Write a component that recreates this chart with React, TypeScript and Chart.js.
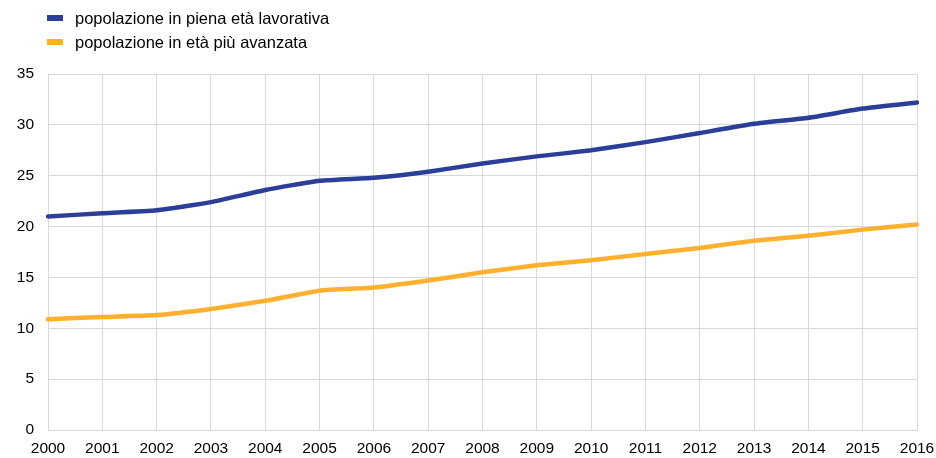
import React, { useEffect, useRef } from "react";
import { Chart, registerables } from "chart.js";

Chart.register(...registerables);

const years = ["2000","2001","2002","2003","2004","2005","2006","2007","2008","2009","2010","2011","2012","2013","2014","2015","2016"];
const workingAge = [21.0, 21.3, 21.6, 22.4, 23.6, 24.5, 24.8, 25.4, 26.2, 26.9, 27.5, 28.3, 29.2, 30.1, 30.7, 31.6, 32.2];
const older = [10.9, 11.1, 11.3, 11.9, 12.7, 13.7, 14.0, 14.7, 15.5, 16.2, 16.7, 17.3, 17.9, 18.6, 19.1, 19.7, 20.2];
const seriesNames = ["popolazione in piena età lavorativa", "popolazione in età più avanzata"];
const seriesColors = ["#2b3f98", "#ffb02e"];

const FONT = "Arial, 'Liberation Sans', sans-serif";

export default function App() {
  const ref = useRef<HTMLCanvasElement | null>(null);
  useEffect(() => {
    if (!ref.current) return;
    const chart = new Chart(ref.current, {
      type: "line",
      data: {
        labels: years,
        datasets: [
          { label: seriesNames[0], data: workingAge, borderColor: seriesColors[0], backgroundColor: seriesColors[0], borderWidth: 4.5, pointRadius: 0, tension: 0.15, borderCapStyle: "round" },
          { label: seriesNames[1], data: older, borderColor: seriesColors[1], backgroundColor: seriesColors[1], borderWidth: 4.5, pointRadius: 0, tension: 0.15, borderCapStyle: "round" },
        ],
      },
      options: {
        animation: false,
        responsive: false,
        maintainAspectRatio: false,
        layout: { padding: { top: 74, right: 19, left: 0, bottom: 0 } },
        plugins: { legend: { display: false }, tooltip: { enabled: false } },
        scales: {
          x: {
            offset: false,
            grid: { color: "#d9d9d9", lineWidth: 1, drawTicks: false },
            border: { color: "#d9d9d9" },
            ticks: { color: "#000", font: { family: FONT, size: 15.5 }, padding: 9, maxRotation: 0, autoSkip: false },
            afterFit: (s: any) => { s.height = 28; s.paddingRight = 0; s.paddingLeft = 0; },
          },
          y: {
            min: 0,
            max: 35,
            grid: { color: "#d9d9d9", lineWidth: 1, drawTicks: false },
            border: { color: "#d9d9d9" },
            ticks: { stepSize: 5, color: "#000", font: { family: FONT, size: 15.5 }, padding: 14 },
            afterFit: (s: any) => { s.width = 48; s.paddingTop = 0; s.paddingBottom = 0; },
          },
        },
      },
    });
    return () => chart.destroy();
  }, []);

  return (
    <div style={{ position: "fixed", left: 0, top: 0, width: 936, height: 458, background: "#fff" }}>
      <canvas ref={ref} width={936} height={458} style={{ position: "absolute", left: 0, top: 0 }} />
      {seriesNames.map((n, i) => (
        <div key={n} style={{ position: "absolute", left: 47, top: 7 + i * 24, height: 22, display: "flex", alignItems: "center", fontFamily: FONT, fontSize: 16.5, color: "#000", whiteSpace: "nowrap" }}>
          <span style={{ display: "inline-block", width: 16, height: 6, background: seriesColors[i], marginRight: 12 }} />
          <span>{n}</span>
        </div>
      ))}
    </div>
  );
}
